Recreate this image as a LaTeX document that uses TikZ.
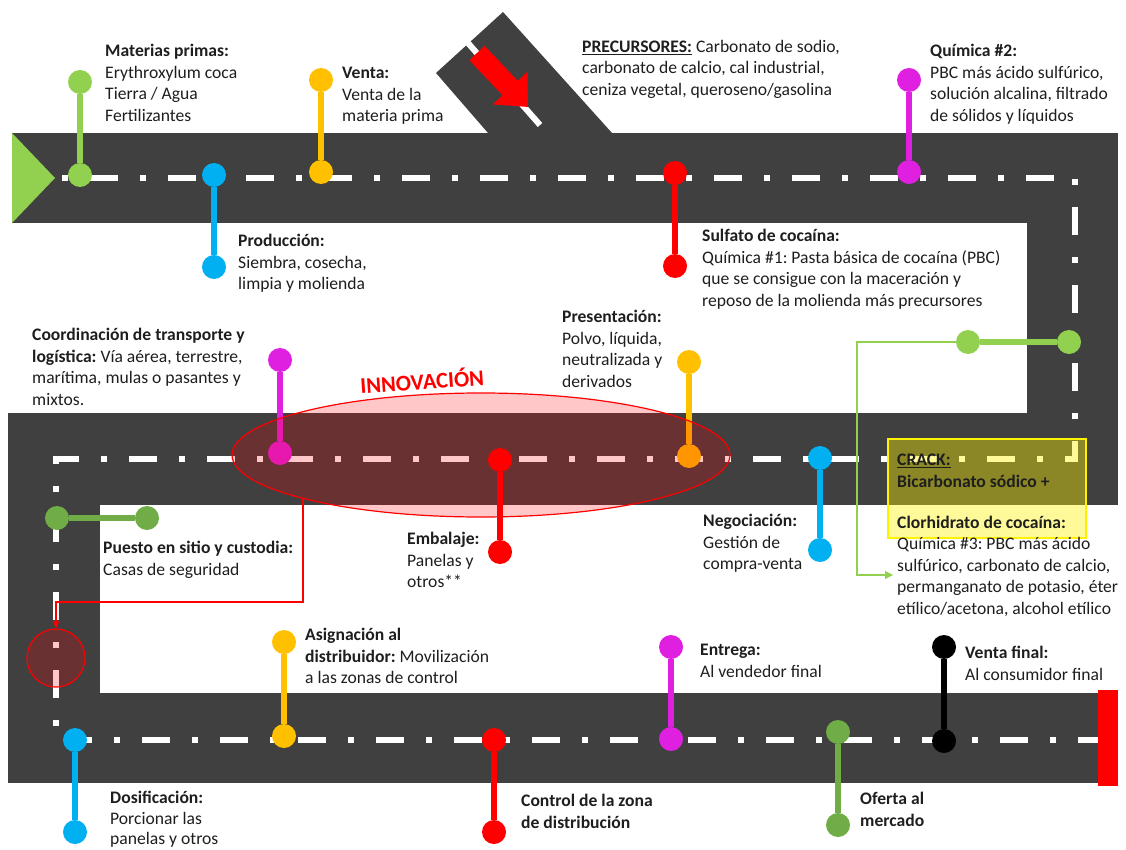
\documentclass[tikz,border=0pt]{standalone}
\usepackage{fontspec}
\setmainfont{Carlito}
\usetikzlibrary{arrows.meta,shapes.geometric}

\definecolor{roadgray}{RGB}{64,64,64}
\definecolor{lgreen}{RGB}{146,208,80}
\definecolor{dgreen}{RGB}{112,173,71}
\definecolor{skyblue}{RGB}{0,176,240}
\definecolor{amber}{RGB}{255,192,0}
\definecolor{pinkish}{RGB}{224,32,224}
\definecolor{txtgray}{RGB}{30,30,30}
\frenchspacing

\begin{document}
\begin{tikzpicture}[x=1pt,y=-1pt,
		road/.style={fill=roadgray},
		lane/.style={white, line width=6.5pt, dash pattern=on 28pt off 22pt on 6pt off 22pt},
		dot/.style={circle, fill=#1, minimum size=24pt, inner sep=0pt},
		stick/.style={draw=#1, line width=6pt},
		lbl/.style={anchor=north west, align=left, inner sep=0pt, text=txtgray, font=\fontsize{17.6}{21.5}\selectfont},
		]
		\useasboundingbox (0,0) rectangle (1126,850);
		
		%Road
		\fill[road] (503,12) -- (436,73) -- (488,133) -- (612,133) -- cycle;
		\fill[road] (12,133) rectangle (1118,223);
		\fill[road] (1027,133) rectangle (1118,505);
		\fill[road] (8,413) rectangle (1118,505);
		\fill[road] (8,413) rectangle (100,783);
		\fill[road] (8,693) rectangle (1098,783);
		\fill[red] (1098,690) rectangle (1118,786);
		
		%Lane marks
		\coordinate (ln0) at (12,178);
		\coordinate (ln1) at (1075,178);
		\coordinate (ln2) at (1075,459);
		\coordinate (ln3) at (56,459);
		\coordinate (ln4) at (56,740);
		\coordinate (ln5) at (1098,740);
		\draw[lane] (ln0) -- (ln1) -- (ln2) -- (ln3) -- (ln4) -- (ln5);
		\coordinate (dg0) at (468,43);
		\coordinate (dg1) at (540,125);
		\draw[white, line width=6pt] (dg0) -- (dg1);
		\coordinate (in0) at (477,53);
		\coordinate (in1) at (528,107);
		\draw[red, line width=21pt, -{Triangle[length=26pt, width=46pt]}] (in0) -- (in1);
		\fill[lgreen] (12,133) -- (55,178) -- (12,223) -- cycle;
		
		%Pins
		\node[dot=lgreen]   (mp1) at (80,82)   {};
		\node[dot=lgreen]   (mp2) at (80,175)  {};
		\node[dot=skyblue]  (pd1) at (214,175) {};
		\node[dot=skyblue]  (pd2) at (214,267) {};
		\node[dot=amber]    (vt1) at (321,80)  {};
		\node[dot=amber]    (vt2) at (321,172) {};
		\node[dot=red]      (sf1) at (675,173) {};
		\node[dot=red]      (sf2) at (675,266) {};
		\node[dot=pinkish]  (qd1) at (909,80)  {};
		\node[dot=pinkish]  (qd2) at (909,172) {};
		\node[dot=lgreen]   (ck1) at (968,342) {};
		\node[dot=lgreen]   (ck2) at (1069,342) {};
		\node[dot=pinkish]  (co1) at (280,360) {};
		\node[dot=pinkish]  (co2) at (280,453) {};
		\node[dot=amber]    (ps1) at (689,362) {};
		\node[dot=amber]    (ps2) at (689,456) {};
		\node[dot=skyblue]  (ng1) at (820,458) {};
		\node[dot=skyblue]  (ng2) at (820,550) {};
		\node[dot=dgreen]   (pu1) at (57,518)  {};
		\node[dot=dgreen]   (pu2) at (147,518) {};
		\node[dot=amber]    (as1) at (284,642) {};
		\node[dot=amber]    (as2) at (284,736) {};
		\node[dot=skyblue]  (ds1) at (75,740)  {};
		\node[dot=skyblue]  (ds2) at (75,832)  {};
		\node[dot=red]      (ct1) at (494,740) {};
		\node[dot=red]      (ct2) at (494,832) {};
		\node[dot=pinkish]  (en1) at (671,647) {};
		\node[dot=pinkish]  (en2) at (671,739) {};
		\node[dot=dgreen]   (of1) at (838,732) {};
		\node[dot=dgreen]   (of2) at (838,825) {};
		\node[dot=black]    (vf1) at (944,647) {};
		\node[dot=black]    (vf2) at (944,741) {};
		
		\draw[stick=lgreen]  (mp1) -- (mp2);
		\draw[stick=skyblue] (pd1) -- (pd2);
		\draw[stick=amber]   (vt1) -- (vt2);
		\draw[stick=red]     (sf1) -- (sf2);
		\draw[stick=pinkish] (qd1) -- (qd2);
		\draw[stick=lgreen]  (ck1) -- (ck2);
		\draw[stick=pinkish] (co1) -- (co2);
		\draw[stick=amber]   (ps1) -- (ps2);
		\draw[stick=skyblue] (ng1) -- (ng2);
		\draw[stick=dgreen]  (pu1) -- (pu2);
		\draw[stick=amber]   (as1) -- (as2);
		\draw[stick=skyblue] (ds1) -- (ds2);
		\draw[stick=red]     (ct1) -- (ct2);
		\draw[stick=pinkish] (en1) -- (en2);
		\draw[stick=dgreen]  (of1) -- (of2);
		\draw[stick=black]   (vf1) -- (vf2);
		
		%Innovation
		\node[ellipse, draw=red, line width=1.2pt, fill=red, fill opacity=0.22, minimum width=498pt, minimum height=124pt, inner sep=0pt] (innov) at (481,455) {};
		\node[dot=red] (em1) at (500,460) {};
		\node[dot=red] (em2) at (500,552) {};
		\draw[stick=red] (em1) -- (em2);
		\node[rotate=4, text=red, font=\fontsize{22.5}{26}\selectfont\bfseries] (innovT) at (422,380) {INNOVACIÓN};
		\node[circle, draw=red, line width=1.2pt, fill=red, fill opacity=0.22, minimum size=58pt, inner sep=0pt] (safe) at (56,658) {};
		\coordinate (iv0) at (303,498);
		\coordinate (iv1) at (303,602);
		\coordinate (iv2) at (56,602);
		\draw[red, line width=1.2pt, -{Triangle[length=7pt, width=6pt]}] (iv0) -- (iv1) -- (iv2) -- (safe);
		
		%Crack
		\node[draw=yellow, line width=1.5pt, fill=yellow, fill opacity=0.4, minimum width=198pt, minimum height=99pt, anchor=north west, inner sep=0pt] (crackbox) at (887,438) {};
		\coordinate (gr0) at (857,342);
		\coordinate (gr1) at (857,575);
		\coordinate (gr2) at (893,575);
		\draw[lgreen, line width=1.2pt, -{Triangle[length=8pt, width=8pt]}] (ck1) -- (gr0) -- (gr1) -- (gr2);
		
		%Labels
		\node[lbl] (mpT) at (105,44) {\textbf{Materias primas:}\\Erythroxylum coca\\Tierra / Agua\\Fertilizantes};
		\node[lbl] (vtT) at (342,67) {\textbf{Venta:}\\Venta de la\\materia prima};
		\node[lbl] (prT) at (582,40) {\textbf{\underline{PRECURSORES:}} Carbonato de sodio,\\carbonato de calcio, cal industrial,\\ceniza vegetal, queroseno/gasolina};
		\node[lbl] (qdT) at (930,44) {\textbf{Química \#2:}\\PBC más ácido sulfúrico,\\solución alcalina, filtrado\\de sólidos y líquidos};
		\node[lbl] (pdT) at (238,234) {\textbf{Producción:}\\Siembra, cosecha,\\limpia y molienda};
		\node[lbl] (sfT) at (702,229) {\textbf{Sulfato de cocaína:}\\Química \#1: Pasta básica de cocaína (PBC)\\que se consigue con la maceración y\\reposo de la molienda más precursores};
		\node[lbl] (coT) at (32,328) {\textbf{Coordinación de transporte y}\\\textbf{logística:} Vía aérea, terrestre,\\marítima, mulas o pasantes y\\mixtos.};
		\node[lbl] (psT) at (562,310) {\textbf{Presentación:}\\Polvo, líquida,\\neutralizada y\\derivados};
		\node[lbl] (emT) at (407,532) {\textbf{Embalaje:}\\Panelas y\\otros**};
		\node[lbl] (ngT) at (703,514) {\textbf{Negociación:}\\Gestión de\\compra-venta};
		\node[lbl] (ckT) at (897,454) {\textbf{\underline{CRACK:}}\\\textbf{Bicarbonato sódico +}\\[19.5pt]\textbf{Clorhidrato de cocaína:}\\Química \#3: PBC más ácido\\sulfúrico, carbonato de calcio,\\permanganato de potasio, éter\\etílico/acetona, alcohol etílico};
		\node[lbl] (puT) at (103,541) {\textbf{Puesto en sitio y custodia:}\\Casas de seguridad};
		\node[lbl] (asT) at (305,628) {\textbf{Asignación al}\\\textbf{distribuidor:} Movilización\\a las zonas de control};
		\node[lbl] (enT) at (700,644) {\textbf{Entrega:}\\Al vendedor final};
		\node[lbl] (vfT) at (965,646) {\textbf{Venta final:}\\Al consumidor final};
		\node[lbl, font=\fontsize{17.6}{20.5}\selectfont] (dsT) at (110,791) {\textbf{Dosificación:}\\Porcionar las\\panelas y otros};
		\node[lbl] (ctT) at (521,794) {\textbf{Control de la zona}\\\textbf{de distribución}};
		\node[lbl] (ofT) at (860,792) {\textbf{Oferta al}\\\textbf{mercado}};
	\end{tikzpicture}
\end{document}
